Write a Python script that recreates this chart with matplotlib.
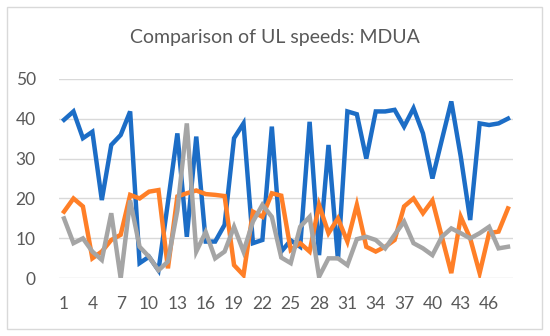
import matplotlib
matplotlib.use("Agg")
from matplotlib import pyplot as plt
from matplotlib.patches import Rectangle

points = list(range(1, 49))
tick_labels = [str(i) for i in range(1, 49, 3)]

blue = [39.7, 41.8, 35.1, 36.7, 19.6, 33.4, 35.9, 41.8, 3.8, 5.4,
        2.0, 19.0, 36.3, 10.4, 35.5, 9.2, 9.2, 13.4, 35.1, 38.8,
        8.8, 9.6, 38.0, 6.7, 9.5, 7.9, 39.2, 5.8, 33.4, 4.6,
        41.8, 41.1, 30.0, 41.8, 41.8, 42.2, 38.0, 42.6, 36.3, 25.0,
        34.7, 44.3, 30.5, 14.6, 38.8, 38.4, 38.8, 40.0]
orange = [16.7, 20.0, 18.0, 5.0, 6.7, 9.6, 10.9, 20.9, 20.0, 21.7,
          22.1, 2.5, 20.5, 21.3, 22.0, 21.1, 20.9, 20.6, 3.3, 0.8,
          16.7, 15.4, 21.3, 20.7, 7.1, 8.8, 6.7, 18.4, 11.3, 15.0,
          9.2, 18.4, 7.9, 6.7, 7.9, 9.6, 18.0, 20.0, 16.3, 19.5,
          10.4, 1.3, 15.4, 10.0, 1.3, 11.3, 11.7, 17.5]
gray = [15.0, 8.8, 10.0, 6.7, 4.6, 16.3, 0.0, 19.5, 7.9, 5.4,
        2.0, 4.2, 17.0, 38.8, 6.7, 11.6, 5.0, 6.7, 12.9, 6.7,
        14.2, 18.4, 15.4, 5.2, 3.8, 12.9, 15.4, 0.4, 5.0, 5.0,
        3.3, 9.8, 10.4, 9.6, 7.5, 10.9, 14.2, 8.8, 7.5, 5.8,
        10.4, 12.5, 11.3, 10.0, 11.3, 12.9, 7.5, 7.9]

fig = plt.figure(figsize=(5.5, 3.36), dpi=100)
ax = fig.add_axes([59.3 / 550, (336 - 278.3) / 336,
                   (512.7 - 59.3) / 550, (278.3 - 78.7) / 336])

# ramka wykresu jak w Excelu
fig.patches.append(Rectangle((7 / 550, 7 / 336), 535 / 550, 322 / 336,
                             transform=fig.transFigure, fill=False,
                             edgecolor='#D9D9D9', linewidth=1))

ax.plot(points, blue, color='#1C6DC6', linewidth=3.2, solid_joinstyle='miter', zorder=3)
ax.plot(points, orange, color='#FF7F27', linewidth=3.2, solid_joinstyle='miter', zorder=3)
ax.plot(points, gray, color='#A5A5A5', linewidth=3.2, solid_joinstyle='miter', zorder=3)

ax.set_xlim(0.5, 48.5)
ax.set_ylim(0, 50)
ax.set_yticks(range(0, 51, 10))
ax.set_xticks(range(1, 49, 3))
ax.set_xticklabels(tick_labels)
ax.grid(axis='y', color='#D9D9D9', linewidth=1)
ax.set_axisbelow(True)
for s in ax.spines.values():
    s.set_visible(False)
ax.tick_params(length=0, labelsize=12.5, colors='#595959')
ax.tick_params(axis='x', pad=13)
ax.tick_params(axis='y', pad=17)
for lab in ax.get_xticklabels() + ax.get_yticklabels():
    lab.set_fontfamily('Lato')

fig.text(0.5, (336 - 38) / 336, 'Comparison of UL speeds: MDUA',
         ha='center', va='center', fontsize=14, color='#595959',
         fontfamily='Lato')

fig.savefig('out.png', dpi=100)
